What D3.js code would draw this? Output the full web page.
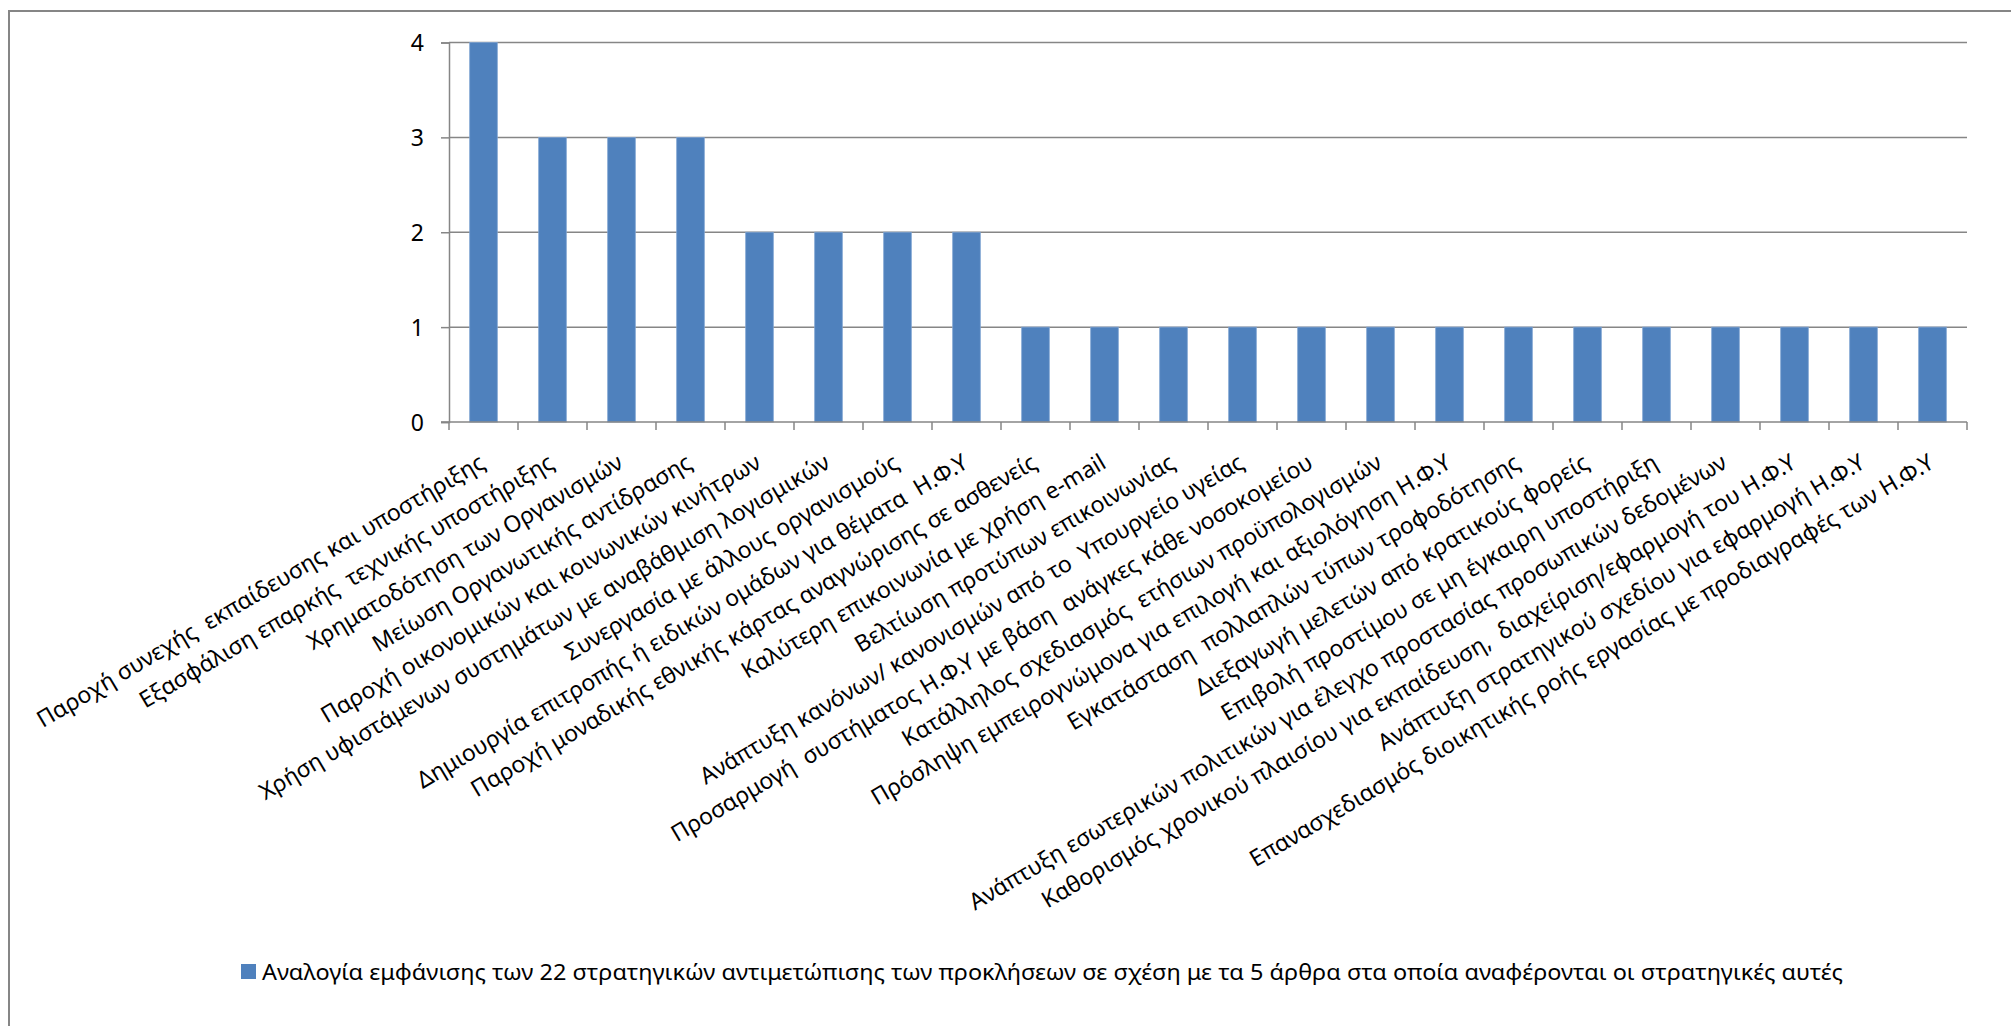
<!DOCTYPE html>
<html>
<head>
<meta charset="utf-8">
<script src="https://cdn.jsdelivr.net/npm/d3@7"></script>
<style>
  html, body { margin: 0; padding: 0; background: #fff; }
  svg text { font-family: "Noto Sans", "Open Sans", sans-serif; fill: #000; white-space: pre; }
</style>
</head>
<body>
<div id="chart"></div>
<script>
'use strict';

// strategies (categories), in chart order
var categories = [
  'Παροχή συνεχής  εκπαίδευσης και υποστήριξης',
  'Εξασφάλιση επαρκής  τεχνικής υποστήριξης',
  'Χρηματοδότηση των Οργανισμών',
  'Μείωση Οργανωτικής αντίδρασης',
  'Παροχή οικονομικών και κοινωνικών κινήτρων',
  'Χρήση υφιστάμενων συστημάτων με αναβάθμιση λογισμικών',
  'Συνεργασία με άλλους οργανισμούς',
  'Δημιουργία επιτροπής ή ειδικών ομάδων για θέματα  Η.Φ.Υ',
  'Παροχή μοναδικής εθνικής κάρτας αναγνώρισης σε ασθενείς',
  'Καλύτερη επικοινωνία με χρήση e-mail',
  'Βελτίωση προτύπων επικοινωνίας',
  'Ανάπτυξη κανόνων/ κανονισμών από το  Υπουργείο υγείας',
  'Προσαρμογή  συστήματος Η.Φ.Υ με βάση  ανάγκες κάθε νοσοκομείου',
  'Κατάλληλος σχεδιασμός  ετήσιων προϋπολογισμών',
  'Πρόσληψη εμπειρογνώμονα για επιλογή και αξιολόγηση Η.Φ.Υ',
  'Εγκατάσταση  πολλαπλών τύπων τροφοδότησης',
  'Διεξαγωγή μελετών από κρατικούς φορείς',
  'Επιβολή προστίμου σε μη έγκαιρη υποστήριξη',
  'Ανάπτυξη εσωτερικών πολιτικών για έλεγχο προστασίας προσωπικών δεδομένων',
  'Καθορισμός χρονικού πλαισίου για εκπαίδευση,  διαχείριση/εφαρμογή του Η.Φ.Υ',
  'Ανάπτυξη στρατηγικού σχεδίου για εφαρμογή Η.Φ.Υ',
  'Επανασχεδιασμός διοικητικής ροής εργασίας με προδιαγραφές των Η.Φ.Υ'
];

// number of articles mentioning each strategy
var values = [4, 3, 3, 3, 2, 2, 2, 2, 1, 1, 1, 1, 1, 1, 1, 1, 1, 1, 1, 1, 1, 1];

var yTicks = [0, 1, 2, 3, 4];

var seriesName = 'Αναλογία εμφάνισης των 22 στρατηγικών αντιμετώπισης των προκλήσεων σε σχέση με τα 5 άρθρα στα οποία αναφέρονται οι στρατηγικές αυτές';

////////////////////////////////////////////////////////////////////////////////////
var W = 2011, H = 1026;
var plot = { left: 449, right: 1967, top: 42.5, bottom: 422 };
var barColor = '#4f81bd';
var lineColor = '#868686';

var svg = d3.select('#chart').append('svg')
  .attr('width', W)
  .attr('height', H);

// outer chart border (right/bottom edges fall outside the picture)
svg.append('rect')
  .attr('x', 9).attr('y', 11)
  .attr('width', W + 10).attr('height', H + 10)
  .attr('fill', '#fff')
  .attr('stroke', lineColor)
  .attr('stroke-width', 2);

var x = d3.scaleBand()
  .domain(categories)
  .range([plot.left, plot.right])
  .paddingInner(0.6)
  .paddingOuter(0.3);

var y = d3.scaleLinear()
  .domain([0, 4])
  .range([plot.bottom, plot.top]);

// gridlines
svg.append('g').selectAll('line')
  .data(yTicks.slice(1))
  .enter().append('line')
  .attr('x1', plot.left).attr('x2', plot.right)
  .attr('y1', function (d) { return y(d); })
  .attr('y2', function (d) { return y(d); })
  .attr('stroke', lineColor)
  .attr('stroke-width', 1.5);

// bars
svg.append('g').selectAll('rect')
  .data(values)
  .enter().append('rect')
  .attr('x', function (d, i) { return x(categories[i]); })
  .attr('y', function (d) { return y(d); })
  .attr('width', x.bandwidth())
  .attr('height', function (d) { return y(0) - y(d); })
  .attr('fill', barColor)
  .attr('stroke', '#7ea3d2')
  .attr('stroke-width', 0.8);

// y axis
var yAxis = svg.append('g')
  .attr('transform', 'translate(' + plot.left + ',0)')
  .call(d3.axisLeft(y).tickValues(yTicks).tickFormat(d3.format('d')).tickSize(8).tickPadding(17));
yAxis.select('.domain').attr('stroke', lineColor).attr('stroke-width', 1.5);
yAxis.selectAll('.tick line').attr('stroke', lineColor).attr('stroke-width', 1.5);
yAxis.selectAll('.tick text')
  .style('font-size', '23px')
  .attr('dy', '0.36em');

// x axis line and ticks on category boundaries
var step = x.step();
var boundaries = d3.range(categories.length + 1).map(function (i) {
  return x(categories[0]) - x.paddingOuter() * step + i * step;
});
svg.append('line')
  .attr('x1', plot.left - 8).attr('x2', plot.right)
  .attr('y1', y(0)).attr('y2', y(0))
  .attr('stroke', lineColor).attr('stroke-width', 1.5);
svg.append('g').selectAll('line')
  .data(boundaries)
  .enter().append('line')
  .attr('x1', function (d) { return d; }).attr('x2', function (d) { return d; })
  .attr('y1', y(0)).attr('y2', y(0) + 8)
  .attr('stroke', lineColor).attr('stroke-width', 1.5);

// rotated category labels
svg.append('g').selectAll('text')
  .data(categories)
  .enter().append('text')
  .attr('text-anchor', 'end')
  .attr('transform', function (d) {
    return 'translate(' + (x(d) + x.bandwidth() / 2 + 3) + ',' + (y(0) + 45) + ') rotate(-30.5)';
  })
  .style('font-size', '23px')
  .text(function (d) { return d; });

// legend
var legend = svg.append('g').attr('transform', 'translate(241,964)');
legend.append('rect')
  .attr('width', 15).attr('height', 15)
  .attr('fill', barColor);
legend.append('text')
  .attr('x', 21).attr('y', 16)
  .attr('textLength', 1581)
  .attr('lengthAdjust', 'spacingAndGlyphs')
  .style('font-size', '22px')
  .text(seriesName);
</script>
</body>
</html>
